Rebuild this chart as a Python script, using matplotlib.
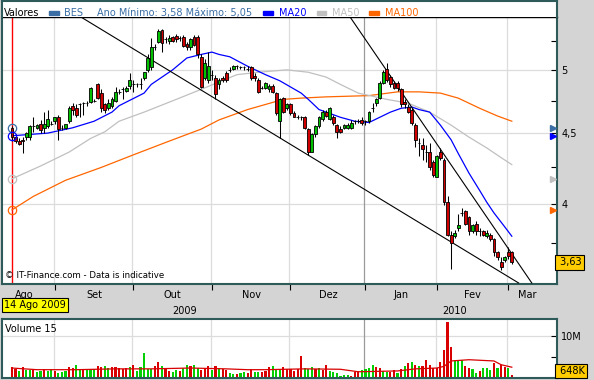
import matplotlib
matplotlib.use("Agg")
import matplotlib.pyplot as plt
import matplotlib.transforms as mtransforms
from matplotlib.patches import Rectangle
from matplotlib.ticker import FixedLocator, NullFormatter, FixedFormatter
import numpy as np

# ---------------- data ----------------
opens = [4.54,4.47,4.44,4.45,4.47,4.47,4.55,4.54,4.57,4.54,
         4.55,4.57,4.59,4.62,4.54,4.54,4.59,4.71,4.69,4.72,
         4.73,4.73,4.74,4.75,4.88,4.81,4.72,4.69,4.71,4.75,
         4.82,4.84,4.83,4.87,4.88,4.88,4.88,4.93,5.00,5.02,
         5.19,5.24,5.34,5.26,5.25,5.28,5.29,5.27,5.28,5.22,
         5.19,5.28,5.28,5.11,4.93,4.92,4.96,4.93,4.88,4.93,
         4.97,5.00,5.01,5.03,5.02,5.02,5.01,5.02,4.95,4.92,
         4.85,4.85,4.84,4.87,4.81,4.59,4.77,4.69,4.72,4.65,
         4.62,4.62,4.62,4.53,4.36,4.49,4.55,4.61,4.66,4.61,
         4.62,4.56,4.53,4.54,4.54,4.54,4.59,4.59,4.60,4.59,
         4.59,4.69,4.73,4.77,4.89,5.01,4.94,4.89,4.89,4.84,
         4.74,4.70,4.68,4.56,4.43,4.41,4.36,4.36,4.29,4.18,
         4.36,4.30,4.01,3.80,3.79,3.84,3.94,3.95,3.91,3.82,
         3.87,3.82,3.82,3.79,3.80,3.77,3.69,3.63,3.64,3.69,
         3.69]
highs = [4.55,4.49,4.46,4.47,4.51,4.56,4.62,4.57,4.60,4.66,
         4.68,4.59,4.62,4.64,4.56,4.56,4.71,4.73,4.72,4.73,
         4.74,4.75,4.86,4.76,4.89,4.84,4.73,4.76,4.78,4.86,
         4.84,4.86,4.87,4.97,4.92,4.89,4.93,4.98,5.13,5.27,
         5.22,5.35,5.35,5.28,5.30,5.29,5.31,5.29,5.30,5.24,
         5.27,5.30,5.30,5.13,5.09,5.15,5.00,4.96,4.93,4.95,
         4.99,5.02,5.04,5.04,5.03,5.03,5.03,5.03,4.97,4.93,
         4.87,4.90,4.88,4.88,4.82,4.77,4.78,4.73,4.73,4.67,
         4.64,4.63,4.63,4.54,4.50,4.56,4.63,4.68,4.68,4.70,
         4.64,4.57,4.55,4.57,4.58,4.60,4.60,4.61,4.62,4.60,
         4.67,4.73,4.77,4.91,5.00,5.06,4.96,4.91,4.91,4.85,
         4.76,4.72,4.69,4.58,4.46,4.46,4.41,4.43,4.30,4.34,
         4.39,4.32,4.05,3.82,3.83,3.93,3.97,3.96,3.92,3.87,
         3.89,3.84,3.83,3.83,3.81,3.78,3.70,3.66,3.67,3.72,
         3.70]
lows = [4.44,4.43,4.41,4.35,4.45,4.45,4.51,4.53,4.50,4.50,
        4.54,4.56,4.57,4.45,4.52,4.53,4.58,4.64,4.62,4.62,
        4.64,4.71,4.73,4.74,4.76,4.66,4.65,4.68,4.69,4.74,
        4.80,4.76,4.82,4.84,4.82,4.86,4.84,4.92,4.98,5.00,
        5.17,5.23,5.15,5.23,5.22,5.24,5.24,5.25,5.19,5.17,
        5.17,5.20,5.10,4.85,4.92,4.89,4.92,4.76,4.84,4.90,
        4.90,4.98,5.00,5.01,5.01,5.00,4.99,4.92,4.91,4.81,
        4.84,4.84,4.82,4.81,4.64,4.46,4.65,4.68,4.64,4.62,
        4.61,4.60,4.53,4.34,4.36,4.47,4.54,4.59,4.62,4.60,
        4.56,4.46,4.50,4.53,4.53,4.53,4.57,4.58,4.56,4.56,
        4.58,4.66,4.71,4.76,4.88,4.90,4.86,4.84,4.83,4.70,
        4.69,4.65,4.56,4.40,4.33,4.30,4.29,4.23,4.18,4.18,
        4.30,3.99,3.79,3.59,3.78,3.82,3.92,3.86,3.80,3.81,
        3.80,3.79,3.79,3.78,3.76,3.67,3.64,3.58,3.63,3.65,
        3.62]
closes = [4.47,4.44,4.42,4.44,4.50,4.55,4.55,4.56,4.52,4.57,
          4.61,4.57,4.62,4.53,4.54,4.57,4.69,4.68,4.64,4.72,
          4.73,4.73,4.85,4.75,4.77,4.69,4.68,4.73,4.76,4.82,
          4.82,4.84,4.85,4.92,4.88,4.88,4.88,4.98,5.10,5.19,
          5.19,5.33,5.23,5.26,5.27,5.25,5.26,5.27,5.20,5.19,
          5.26,5.21,5.13,4.86,5.06,5.03,4.96,4.80,4.92,4.92,
          4.92,5.00,5.03,5.03,5.02,5.02,5.01,4.93,4.93,4.82,
          4.85,4.89,4.87,4.82,4.65,4.76,4.66,4.72,4.65,4.62,
          4.62,4.62,4.54,4.36,4.49,4.55,4.62,4.66,4.63,4.69,
          4.58,4.51,4.51,4.56,4.56,4.58,4.59,4.59,4.58,4.59,
          4.66,4.69,4.76,4.89,4.98,4.92,4.88,4.85,4.85,4.72,
          4.72,4.66,4.58,4.45,4.43,4.38,4.36,4.25,4.20,4.33,
          4.32,4.01,3.80,3.75,3.81,3.86,3.94,3.87,3.82,3.86,
          3.82,3.82,3.80,3.81,3.77,3.69,3.66,3.60,3.66,3.67,
          3.63]

# volume in millions of shares
volumes = [2.6,2.1,1.8,2.6,2.0,2.0,2.2,1.5,1.8,2.2,
           1.8,2.2,1.8,1.3,1.5,1.7,2.6,2.4,3.1,2.0,
           2.0,2.2,2.1,2.1,2.8,2.6,3.0,2.4,2.7,2.6,
           2.4,2.1,2.4,2.6,3.1,1.8,2.6,6.0,2.1,2.1,
           3.0,3.9,2.8,2.2,1.8,1.4,2.0,1.7,2.4,3.2,
           2.8,3.1,2.4,2.0,2.4,2.8,2.0,2.8,2.4,2.2,
           2.0,1.3,0.9,0.9,1.3,1.5,1.3,2.2,1.5,1.4,
           1.5,1.7,2.6,2.8,2.0,2.0,2.7,2.2,2.2,1.8,
           2.2,5.4,2.4,2.2,2.6,2.2,2.4,2.0,3.2,1.8,
           1.5,1.1,0.5,0.7,0.7,0.4,1.5,1.7,2.0,2.2,
           2.4,3.1,2.6,2.4,1.7,1.5,1.5,2.0,1.3,2.2,
           3.0,3.5,3.8,3.2,2.8,2.8,4.3,3.1,2.4,2.4,
           3.8,6.7,13.5,7.5,4.3,4.1,4.4,2.8,2.4,2.2,
           1.3,1.7,2.4,2.4,2.0,3.7,2.4,3.2,2.6,2.4,
           0.648]
vol_dir = list("rrgrggrggr" "ggrgggrrgg" "rgggrrggrr" "rrrgrggggg"
               "rrgrrggrgg" "rggrrrgrgr" "rggrggrrgg" "rrrgggrrrr"
               "rrgggrgrrg" "gggggrrrgg" "ggrrggrrgr" "grgrgrrrrr"
               "rrrrgggrrg" "grgggrgrrg" "r")

ma20_idx = [0, 10, 17, 23, 28, 30, 37, 39, 45, 49, 53, 56, 58, 61, 66, 71, 75, 81,
            83, 86, 92, 96, 100, 103, 106, 109, 112, 114, 117, 120, 123, 125, 128,
            131, 133, 135, 138, 140]
ma20_val = [4.48, 4.50, 4.54, 4.59, 4.66, 4.71, 4.81, 4.88, 5.00, 5.10, 5.13, 5.15,
            5.13, 5.11, 5.03, 4.96, 4.91, 4.81, 4.76, 4.68, 4.62, 4.59, 4.58, 4.62,
            4.66, 4.69, 4.70, 4.68, 4.66, 4.56, 4.45, 4.35, 4.21, 4.09, 4.01, 3.94,
            3.85, 3.79]
ma50_idx = [0, 8, 16, 22, 26, 30, 37, 46, 53, 58, 63, 69, 77, 83, 88, 92, 97, 105,
            111, 117, 123, 128, 133, 137, 140]
ma50_val = [4.17, 4.26, 4.36, 4.46, 4.51, 4.59, 4.66, 4.76, 4.84, 4.90, 4.96, 4.98,
            5.00, 4.98, 4.94, 4.88, 4.81, 4.76, 4.73, 4.66, 4.56, 4.47, 4.39, 4.32,
            4.27]
ma100_idx = [0, 6, 15, 25, 34, 43, 49, 53, 58, 66, 76, 81, 88, 100, 108, 114, 120,
             125, 131, 136, 140]
ma100_val = [3.96, 4.05, 4.16, 4.25, 4.34, 4.43, 4.49, 4.53, 4.60, 4.68, 4.76, 4.77,
             4.78, 4.79, 4.82, 4.82, 4.81, 4.77, 4.69, 4.63, 4.59]
vma15_idx = [0, 7, 18, 29, 39, 50, 60, 66, 71, 82, 92, 97, 108, 113, 119, 121, 123,
             128, 135, 137, 140]
vma15_val = [2.4, 2.0, 2.0, 2.2, 2.2, 2.4, 2.2, 2.0, 2.0, 2.2, 2.1, 1.5, 1.7, 2.2,
             2.4, 2.8, 4.1, 4.4, 4.1, 3.2, 2.6]

# trend lines (trading-day index, price)
trend1_idx = [19.3, 141.9]
trend1_val = [5.46, 3.506]
trend2_idx = [94.7, 145.6]
trend2_val = [5.46, 3.506]

month_bounds = [12, 34, 56, 78, 99, 119, 139]
month_labels = ["Ago", "Set", "Out", "Nov", "Dez", "Jan", "Fev", "Mar"]
month_label_pos = [3.4, 23, 45, 67, 88.5, 109, 129, 144.3]
year_labels = ["2009", "2010"]
year_label_pos = [48.2, 124]
price_ticks = [4.0, 4.5, 5.0]
price_tick_labels = ["4", "4,5", "5"]
price_minor = [3.75, 4.25, 4.75, 5.25]

# ---------------- style ----------------
W, H = 594, 380
BG = "#d4d4d4"
FRAME = "#2f5a5a"
STEEL = "#3a6ea5"
C20, C50, C100 = "#0000ff", "#c0c0c0", "#ff6600"
GREEN, RED = "#00c000", "#d00000"
VGREEN, VRED = "#00d000", "#d80000"
GRID = "#dcdcdc"
FS = 7

plt.rcParams["font.family"] = ["DejaVu Sans"]

fig = plt.figure(figsize=(W / 100, H / 100), dpi=100, facecolor=BG)


def frac(x0, y0, x1, y1):
    return [x0 / W, 1 - y1 / H, (x1 - x0) / W, (y1 - y0) / H]


ax = fig.add_axes(frac(2, 17, 557, 284))
hdr = fig.add_axes(frac(2, 1, 557, 17))
axv = fig.add_axes(frac(2, 319, 557, 378))

n = len(closes)
x = np.arange(n)
o = np.array(opens); c = np.array(closes)
hi = np.array(highs); lo = np.array(lows)

XL = (-2.8, 152.66)

# ---------------- main price axes ----------------
ax.set_facecolor("white")
ax.set_yscale("log")
ax.set_xlim(*XL)
ax.set_ylim(3.5, 5.46)

for v in price_ticks:
    ax.axhline(v, color=GRID, lw=0.9, zorder=0)
for b in month_bounds:
    ax.axvline(b - 0.3, color=("#9a9a9a" if b == 99 else GRID), lw=0.9, zorder=0)

ax.axvline(0, color="red", lw=1.0, zorder=1)

ax.plot(ma100_idx, ma100_val, color=C100, lw=0.9, zorder=2)
ax.plot(ma50_idx, ma50_val, color=C50, lw=0.9, zorder=2)
ax.plot(ma20_idx, ma20_val, color=C20, lw=0.9, zorder=2)

ax.plot(trend1_idx, trend1_val, color="black", lw=0.8, zorder=3)
ax.plot(trend2_idx, trend2_val, color="black", lw=0.8, zorder=3)

ax.vlines(x, lo, hi, color="black", lw=0.75, zorder=4)
body_col = [GREEN if cc > oo else (RED if cc < oo else "black") for oo, cc in zip(o, c)]
ax.bar(x, np.abs(c - o), bottom=np.minimum(o, c), width=0.8, color=body_col,
       edgecolor="black", linewidth=0.6, zorder=5)

# start circles
for val, col in [(opens[0], STEEL), (ma20_val[0], C20), (ma50_val[0], C50), (ma100_val[0], C100)]:
    ax.plot([0], [val], "o", mfc="none", mec=col, ms=6, mew=0.9, zorder=6)

# right-edge markers
bt = mtransforms.blended_transform_factory(ax.transAxes, ax.transData)
for val, col in [(opens[0], STEEL), (ma20_val[0], C20), (ma50_val[0], C50), (ma100_val[0], C100)]:
    ax.plot([0.992], [val], ">", color=col, ms=5, transform=bt, clip_on=False, zorder=6)

ax.text(1.0, closes[-1], " " + f"{closes[-1]:.2f}".replace(".", ","), transform=bt,
        ha="left", va="center", fontsize=FS, clip_on=False, zorder=10,
        bbox=dict(boxstyle="square,pad=0.25", fc="#ffcc00", ec="black", lw=0.8))

ax.text(0.006, 0.03, "\u00a9 IT-Finance.com - Data is indicative", transform=ax.transAxes,
        fontsize=6.2, ha="left", va="center", color="black", zorder=7)

ax.yaxis.tick_right()
ax.yaxis.set_major_locator(FixedLocator(price_ticks))
ax.yaxis.set_major_formatter(FixedFormatter(price_tick_labels))
ax.yaxis.set_minor_locator(FixedLocator(price_minor))
ax.yaxis.set_minor_formatter(NullFormatter())
ax.tick_params(axis="y", which="both", direction="in", length=4, width=0.8,
               labelsize=FS, pad=3, right=True, left=False, colors="black")
ax.set_xticks(month_bounds)
ax.set_xticklabels([])
ax.tick_params(axis="x", direction="out", length=4, width=0.8, colors="black")

for s in ["left", "right", "bottom"]:
    ax.spines[s].set_color(FRAME)
    ax.spines[s].set_linewidth(1.5)
ax.spines["top"].set_color("black")
ax.spines["top"].set_linewidth(1.0)

xt = ax.get_xaxis_transform()
for lab, pos in zip(month_labels, month_label_pos):
    ax.text(pos, -0.041, lab, transform=xt, ha="center", va="center", fontsize=FS, clip_on=False)
for lab, pos in zip(year_labels, year_label_pos):
    ax.text(pos, -0.101, lab, transform=xt, ha="center", va="center", fontsize=FS, clip_on=False)

fig.text(35 / W, 1 - 305 / H, "14 Ago 2009", ha="center", va="center", fontsize=FS, zorder=20,
         bbox=dict(boxstyle="square,pad=0.2", fc="#ffff00", ec="black", lw=0.8))

# ---------------- header ----------------
hdr.set_facecolor("white")
hdr.set_xlim(0, 555)
hdr.set_ylim(0, 16)
hdr.set_xticks([]); hdr.set_yticks([])
for s in ["left", "right", "top"]:
    hdr.spines[s].set_color(FRAME)
    hdr.spines[s].set_linewidth(1.5)
hdr.spines["bottom"].set_visible(False)
by = 1.2
hdr.text(2, by, "Valores", fontsize=FS, va="baseline", ha="left", color="black")
hdr.add_patch(Rectangle((47, 2.3), 10, 3.3, color=STEEL))
hdr.text(62, by, "BES", fontsize=FS, va="baseline", ha="left", color=STEEL)
hdr.text(95, by, "Ano M\u00ednimo: 3,58 M\u00e1ximo: 5,05", fontsize=FS, va="baseline",
         ha="left", color=STEEL)
hdr.add_patch(Rectangle((261, 2.3), 10, 3.3, color=C20))
hdr.text(277, by, "MA20", fontsize=FS, va="baseline", ha="left", color=C20)
hdr.add_patch(Rectangle((315, 2.3), 9, 3.3, color=C50))
hdr.text(330, by, "MA50", fontsize=FS, va="baseline", ha="left", color=C50)
hdr.add_patch(Rectangle((367, 2.3), 10, 3.3, color=C100))
hdr.text(383, by, "MA100", fontsize=FS, va="baseline", ha="left", color=C100)

# ---------------- volume ----------------
axv.set_facecolor("white")
axv.set_xlim(*XL)
axv.set_ylim(0, 14.2)
axv.axhline(10, color=GRID, lw=0.9, zorder=0)
for b in month_bounds:
    axv.axvline(b - 0.3, color=("#9a9a9a" if b == 99 else GRID), lw=0.9, zorder=0)
vcol = [VGREEN if d == "g" else VRED for d in vol_dir]
axv.bar(x, volumes, width=0.6, color=vcol, linewidth=0, zorder=2)
axv.plot(vma15_idx, vma15_val, color=VRED, lw=0.9, zorder=3)
axv.yaxis.tick_right()
axv.set_yticks([10])
axv.set_yticklabels(["10M"])
axv.yaxis.set_minor_locator(FixedLocator([5]))
axv.tick_params(axis="y", which="both", direction="in", length=4, width=0.8,
                labelsize=FS, pad=3, right=True, left=False)
axv.set_xticks([])
for s in axv.spines.values():
    s.set_color(FRAME)
    s.set_linewidth(1.5)
axv.text(0.005, 0.83, "Volume 15", transform=axv.transAxes, fontsize=FS, ha="left", va="center")
axv.text(1.0, 0.03, " 648K", transform=axv.transAxes, ha="left", va="bottom", fontsize=FS,
         clip_on=False, bbox=dict(boxstyle="square,pad=0.2", fc="#ffcc00", ec="black", lw=0.8))

fig.savefig("out.png", dpi=100, facecolor=BG)
